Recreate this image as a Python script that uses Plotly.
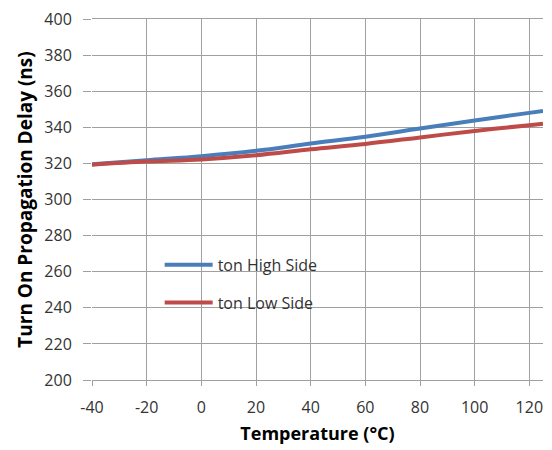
import plotly.graph_objects as go

temps = [-40, -20, 0, 20, 40, 60, 80, 100, 120, 125]
high_side = [319.5, 321.8, 324.0, 327.0, 331.0, 334.8, 339.3, 343.8, 348.0, 349.0]
low_side = [319.3, 321.0, 322.2, 324.5, 327.8, 330.8, 334.4, 338.0, 341.2, 342.0]

x_ticks = [-40, -20, 0, 20, 40, 60, 80, 100, 120]
x_labels = ["-40", "-20", "0", "20", "40", "60", "80", "100", "120"]
y_ticks = list(range(200, 401, 20))

FONT = "Open Sans"
GRID = "#a0a0a0"

fig = go.Figure()
fig.add_trace(go.Scatter(x=temps, y=high_side, mode="lines", name="ton High Side",
                         line=dict(color="#4a7ebb", width=4, shape="spline"),
                         legendgroup="a"))
fig.add_trace(go.Scatter(x=temps, y=low_side, mode="lines", name="ton Low Side",
                         line=dict(color="#be4b48", width=4, shape="spline"),
                         legendgroup="b"))

axis_common = dict(showgrid=True, gridcolor=GRID, gridwidth=1.3,
                   ticks="outside", tickcolor=GRID, tickwidth=1.3,
                   zeroline=False, automargin=False,
                   ticklabeloverflow="allow",
                   tickfont=dict(family=FONT, size=16, color="#333333"))

fig.update_layout(
    width=544, height=442,
    margin=dict(l=84, r=9, t=11, b=70),
    paper_bgcolor="white", plot_bgcolor="white",
    xaxis=dict(range=[-40, 125], tickvals=x_ticks, ticktext=x_labels, ticklen=5,
               ticklabelstandoff=8, showline=True, mirror=True, linecolor=GRID, linewidth=1.3,
               title=dict(text="<b>Temperature (°C)</b>", font=dict(family=FONT, size=18, color="black"), standoff=10),
               **axis_common),
    yaxis=dict(range=[200, 400.02], tickvals=y_ticks, ticklen=8, ticklabelstandoff=8,
               showline=False,
               title=dict(text="<b>Turn On Propagation Delay (ns)</b>", font=dict(family=FONT, size=19, color="black"), standoff=6),
               **axis_common),
    legend=dict(x=0.15, y=0.366, xanchor="left", yanchor="top", bgcolor="rgba(0,0,0,0)",
                font=dict(family=FONT, size=16, color="#333333"), tracegroupgap=14,
                itemwidth=48),
    showlegend=True,
)

fig.write_html("out.html")
